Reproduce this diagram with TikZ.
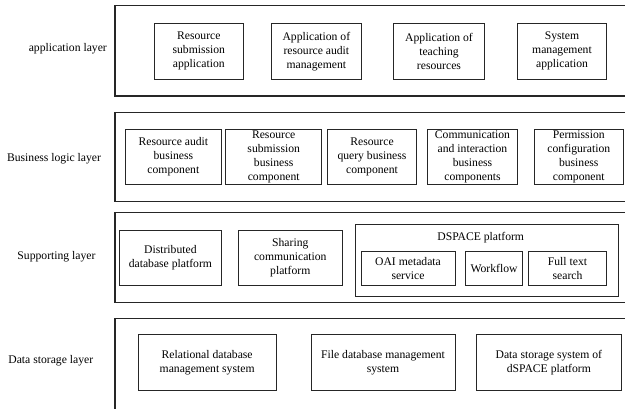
\documentclass[tikz,border=0pt]{standalone}
\usepackage{fontspec}
\setmainfont{Liberation Serif}
\newcommand{\layerfont}{\fontsize{11.7}{14}\selectfont}
\begin{document}
\begin{tikzpicture}[x=1bp,y=-1bp,
  every node/.style={font=\layerfont, align=center, inner sep=0pt},
  layerbox/.style={draw=black!85, line width=1.1bp},
  compbox/.style={draw=black!85, line width=0.9bp},
  layername/.style={text=black}]
\useasboundingbox (0,0) rectangle (625,408);
\clip (0,0) rectangle (625,408);

% layer frames (they run past the right and bottom edge)
\node[layerbox, minimum width=525bp, minimum height=90.3bp] (appframe) at (377.5,50.85) {};
\node[layerbox, minimum width=525bp, minimum height=89.4bp] (blframe) at (377.5,157) {};
\node[layerbox, minimum width=525bp, minimum height=90bp] (spframe) at (377.5,257.3) {};
\node[layerbox, minimum width=525bp, minimum height=101.7bp] (dsframe) at (377.5,369.15) {};

% layer names
\node[layername] (appname) at (67.8,49) {application layer};
\node[layername] (blname) at (54,158.5) {Business logic layer};
\node[layername] (spname) at (56.5,257) {Supporting layer};
\node[layername] (dsname) at (50.8,360.5) {Data storage layer};

% application layer
\node[compbox, minimum width=89bp, minimum height=56bp] (app1) at (198.8,51.3) {Resource\\submission\\application};
\node[compbox, minimum width=90.7bp, minimum height=56bp] (app2) at (316.35,51.3) {Application of\\resource audit\\management};
\node[compbox, minimum width=90.6bp, minimum height=56bp] (app3) at (439,51.3) {Application of\\teaching\\resources};
\node[compbox, minimum width=89.4bp, minimum height=56bp] (app4) at (562,51.3) {System\\management\\application};

% business logic layer
\node[compbox, minimum width=96.7bp, minimum height=55bp] (bl1) at (173.35,156.8) {Resource audit\\business\\component};
\node[compbox, minimum width=96bp, minimum height=55bp] (bl2) at (273.7,156.8) {Resource\\submission\\business\\component};
\node[compbox, minimum width=89.4bp, minimum height=55bp] (bl3) at (372,156.8) {Resource\\query business\\component};
\node[compbox, minimum width=89.6bp, minimum height=55bp] (bl4) at (472.5,156.8) {Communication\\and interaction\\business\\components};
\node[compbox, minimum width=89.5bp, minimum height=55bp] (bl5) at (578.75,156.8) {Permission\\configuration\\business\\component};

% supporting layer
\node[compbox, minimum width=102.7bp, minimum height=55bp] (sp1) at (170.35,257.5) {Distributed\\database platform};
\node[compbox, minimum width=104bp, minimum height=55bp] (sp2) at (290.3,257.5) {Sharing\\communication\\platform};
\node[compbox, minimum width=263.3bp, minimum height=72.7bp] (dspace) at (486.65,260.35) {};
\node (dspacename) at (480.7,238) {DSPACE platform};
\node[compbox, minimum width=94bp, minimum height=33.3bp] (oai) at (408,268.35) {OAI metadata\\service};
\node[compbox, minimum width=56.6bp, minimum height=33.3bp] (wf) at (494,268.35) {Workflow};
\node[compbox, minimum width=78.4bp, minimum height=33.3bp] (fts) at (567.5,268.35) {Full text\\search};

% data storage layer
\node[compbox, minimum width=137.7bp, minimum height=56.4bp] (ds1) at (207.15,362.5) {Relational database\\management system};
\node[compbox, minimum width=144bp, minimum height=56.4bp] (ds2) at (383,362.5) {File database management\\system};
\node[compbox, minimum width=144.3bp, minimum height=56.4bp] (ds3) at (548.85,362.5) {Data storage system of\\dSPACE platform};
\end{tikzpicture}
\end{document}
